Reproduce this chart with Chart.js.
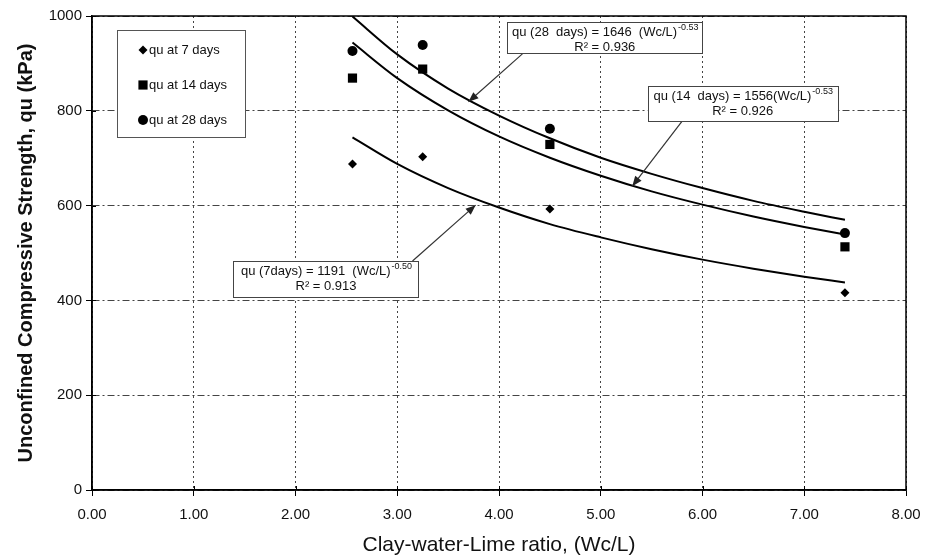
<!DOCTYPE html>
<html><head><meta charset="utf-8">
<script src="https://cdn.jsdelivr.net/npm/chart.js@4/dist/chart.umd.min.js"></script>
<style>html,body{margin:0;padding:0;background:#fff}#wrap{width:935px;height:560px}</style>
</head><body><div id="wrap"><canvas id="c" width="935" height="560"></canvas></div>
<script>
// ---- data ----
const ratioWcL = [2.56, 3.25, 4.50, 7.40];
const qu7days  = [688, 703, 593, 416];
const qu14days = [869, 888, 729, 513];
const qu28days = [926, 939, 762, 542];
// trend curves
const fitX   = [2.56, 3.0, 3.5, 4.0, 4.5, 5.0, 5.5, 6.0, 6.5, 7.0, 7.40];
const fit7   = [744, 688, 637, 596, 561, 533, 508, 486, 467, 450, 438];
const fit14  = [944, 869, 801, 746, 701, 663, 630, 602, 577, 555, 539];
const fit28  = [999, 919, 847, 790, 742, 701, 667, 637, 610, 587, 570];
const xTicks = [0, 1, 2, 3, 4, 5, 6, 7, 8];
const yTicks = [0, 200, 400, 600, 800, 1000];
const seriesLabels = ['qu at 7 days', 'qu at 14 days', 'qu at 28 days'];
const eqText = [
  {main: 'qu (7days) = 1191  (Wc/L)', exp: '-0.50', r2: 'R² = 0.913'},
  {main: 'qu (14  days) = 1556(Wc/L)', exp: '-0.53', r2: 'R² = 0.926'},
  {main: 'qu (28  days) = 1646  (Wc/L)', exp: '-0.53', r2: 'R² = 0.936'}
];

const FONT = "'Liberation Sans', Arial, Helvetica, sans-serif";
const pts = (xs, ys) => xs.map((x, i) => ({x: x, y: ys[i]}));

const markerStyles = [
  {style: 'rectRot', r: 4.5},
  {style: 'rect', r: 6.5},
  {style: 'circle', r: 5}
];

const scatterSets = [qu7days, qu14days, qu28days].map((d, i) => ({
  type: 'scatter', label: seriesLabels[i], data: pts(ratioWcL, d),
  pointStyle: markerStyles[i].style, pointRadius: markerStyles[i].r,
  backgroundColor: '#000', borderColor: '#000', borderWidth: 0, showLine: false, order: 1
}));
const fitSets = [fit7, fit14, fit28].map((d, i) => ({
  type: 'line', label: 'fit ' + seriesLabels[i], data: pts(fitX, d),
  borderColor: '#000', borderWidth: 2, pointRadius: 0, fill: false,
  cubicInterpolationMode: 'monotone', order: 2
}));

// annotation layout (data coordinates)
const annos = [
  {box: [1.39, 3.21, 483, 407], from: [3.15, 483], tip: [3.77, 601]},
  {box: [5.46, 7.33, 852, 778], from: [5.80, 778], tip: [5.31, 641]},
  {box: [4.08, 6.00, 987, 922], from: [4.23, 920], tip: [3.70, 819]}
];

const extras = {
  id: 'extras',
  afterDatasetsDraw(chart) {
    const {ctx, chartArea: a, scales: {x, y}} = chart;
    ctx.save();
    // frame
    ctx.strokeStyle = '#000';
    ctx.lineWidth = 1.5;
    ctx.setLineDash([]);
    ctx.strokeRect(a.left, a.top, a.right - a.left, a.bottom - a.top);
    // small tick marks crossing the axes
    ctx.lineWidth = 1;
    xTicks.forEach(v => { const px = Math.round(x.getPixelForValue(v)) + 0.5; ctx.beginPath(); ctx.moveTo(px, a.bottom - 4); ctx.lineTo(px, a.bottom); ctx.stroke(); });
    yTicks.forEach(v => { const py = Math.round(y.getPixelForValue(v)) + 0.5; ctx.beginPath(); ctx.moveTo(a.left, py); ctx.lineTo(a.left + 4, py); ctx.stroke(); });

    // legend
    const lx = a.left + 25, ly = a.top + 14, lw = 128, lh = 107;
    ctx.fillStyle = '#fff';
    ctx.fillRect(lx, ly, lw, lh);
    ctx.strokeStyle = '#555';
    ctx.lineWidth = 1;
    ctx.strokeRect(lx + 0.5, ly + 0.5, lw, lh);
    const rows = [20, 55, 90];
    ctx.font = '13px ' + FONT;
    ctx.textBaseline = 'middle';
    ctx.textAlign = 'left';
    for (let i = 0; i < 3; i++) {
      const ds = chart.data.datasets[i];
      ctx.fillStyle = '#000';
      Chart.helpers.drawPoint(ctx, {pointStyle: ds.pointStyle, radius: ds.pointRadius, borderWidth: 0}, lx + 26, ly + rows[i]);
      ctx.fillStyle = '#111';
      ctx.fillText(ds.label, lx + 32, ly + rows[i]);
    }

    // equation boxes + arrows
    annos.forEach((an, i) => {
      const x1 = x.getPixelForValue(an.box[0]), x2 = x.getPixelForValue(an.box[1]);
      const y1 = y.getPixelForValue(an.box[2]), y2 = y.getPixelForValue(an.box[3]);
      const fx = x.getPixelForValue(an.from[0]), fy = y.getPixelForValue(an.from[1]);
      const tx = x.getPixelForValue(an.tip[0]), ty = y.getPixelForValue(an.tip[1]);
      ctx.strokeStyle = '#333';
      ctx.lineWidth = 1.2;
      ctx.beginPath(); ctx.moveTo(fx, fy); ctx.lineTo(tx, ty); ctx.stroke();
      const ang = Math.atan2(ty - fy, tx - fx), L = 10, W = 4;
      ctx.fillStyle = '#222';
      ctx.beginPath();
      ctx.moveTo(tx, ty);
      ctx.lineTo(tx - L * Math.cos(ang) + W * Math.sin(ang), ty - L * Math.sin(ang) - W * Math.cos(ang));
      ctx.lineTo(tx - L * Math.cos(ang) - W * Math.sin(ang), ty - L * Math.sin(ang) + W * Math.cos(ang));
      ctx.closePath(); ctx.fill();
      ctx.fillStyle = '#fff';
      ctx.fillRect(x1, y1, x2 - x1, y2 - y1);
      ctx.strokeStyle = '#444';
      ctx.lineWidth = 1;
      ctx.strokeRect(Math.round(x1) + 0.5, Math.round(y1) + 0.5, Math.round(x2 - x1), Math.round(y2 - y1));
      const t = eqText[i];
      ctx.fillStyle = '#111';
      ctx.textBaseline = 'alphabetic';
      ctx.font = '13px ' + FONT;
      const wMain = ctx.measureText(t.main).width;
      ctx.font = '9px ' + FONT;
      const wExp = ctx.measureText(t.exp).width;
      const cx = (x1 + x2) / 2;
      const sx = cx - (wMain + wExp) / 2;
      const base1 = y1 + 14, base2 = y1 + 29;
      ctx.font = '13px ' + FONT;
      ctx.textAlign = 'left';
      ctx.fillText(t.main, sx, base1);
      ctx.font = '9px ' + FONT;
      ctx.fillText(t.exp, sx + wMain + 1, base1 - 6);
      ctx.font = '13px ' + FONT;
      ctx.textAlign = 'center';
      ctx.fillText(t.r2, cx, base2);
    });
    ctx.restore();
  }
};

new Chart(document.getElementById('c'), {
  data: {datasets: [...scatterSets, ...fitSets]},
  options: {
    responsive: false, animation: false, devicePixelRatio: 1,
    layout: {padding: {left: 0, top: 16, right: 29, bottom: 0}},
    plugins: {legend: {display: false}, tooltip: {enabled: false}},
    scales: {
      x: {
        type: 'linear', min: 0, max: 8,
        afterBuildTicks: s => { s.ticks = xTicks.map(v => ({value: v})); },
        afterFit: s => { s.height = 70; },
        grid: {color: '#444', lineWidth: 1, tickLength: 6, tickColor: '#000'},
        border: {display: true, color: '#000', width: 1.5, dash: [2, 3]},
        ticks: {color: '#111', font: {family: FONT, size: 15}, padding: 10, maxRotation: 0,
                callback: v => Number(v).toFixed(2)},
        title: {display: true, text: 'Clay-water-Lime ratio, (Wc/L)', color: '#111',
                font: {family: FONT, size: 21}, padding: {top: 0, bottom: 2}}
      },
      y: {
        type: 'linear', min: 0, max: 1000,
        afterBuildTicks: s => { s.ticks = yTicks.map(v => ({value: v})); },
        afterFit: s => { s.width = 92; },
        grid: {color: '#444', lineWidth: 1, tickLength: 6, tickColor: '#000'},
        border: {display: true, color: '#000', width: 1.5, dash: [7, 3, 2, 3]},
        ticks: {color: '#111', font: {family: FONT, size: 15}, padding: 4,
                callback: v => String(v)},
        title: {display: true, text: 'Unconfined Compressive Strength, qu (kPa)', color: '#111',
                font: {family: FONT, size: 20, weight: 'bold'}, padding: {top: 14, bottom: 0}}
      }
    }
  },
  plugins: [extras]
});
</script>
</body></html>
